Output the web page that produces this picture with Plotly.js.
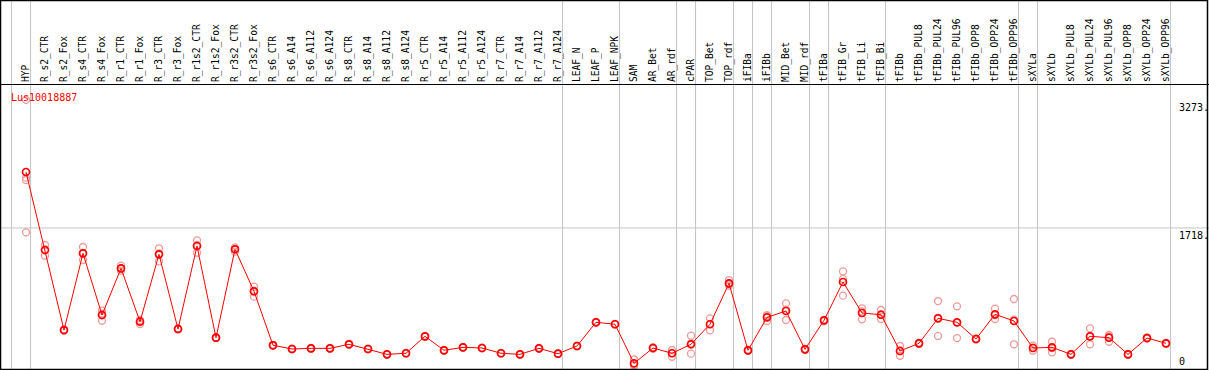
<!DOCTYPE html>
<html>
<head>
<meta charset="utf-8">
<script src="https://cdn.plot.ly/plotly-3.0.1.min.js"></script>
<style>
  html, body { margin: 0; padding: 0; background: #ffffff; }
  #chart { width: 1209px; height: 370px; }
</style>
</head>
<body>
<div id="chart"></div>
<script>
// ---- data ----
const geneName = "Lus10018887";

const categories = [
  "HYP", "R_s2_CTR", "R_s2_Fox", "R_s4_CTR", "R_s4_Fox", "R_r1_CTR", "R_r1_Fox",
  "R_r3_CTR", "R_r3_Fox", "R_r1s2_CTR", "R_r1s2_Fox", "R_r3s2_CTR", "R_r3s2_Fox",
  "R_s6_CTR", "R_s6_A14", "R_s6_A112", "R_s6_A124", "R_s8_CTR", "R_s8_A14", "R_s8_A112",
  "R_s8_A124", "R_r5_CTR", "R_r5_A14", "R_r5_A112", "R_r5_A124", "R_r7_CTR", "R_r7_A14",
  "R_r7_A112", "R_r7_A124", "LEAF_N", "LEAF_P", "LEAF_NPK", "SAM", "AR_Bet", "AR_rdf",
  "cPAR", "TOP_Bet", "TOP_rdf", "iFIBa", "iFIBb", "MID_Bet", "MID_rdf", "tFIBa",
  "tFIB_Gr", "tFIB_Li", "tFIB_Bi", "tFIBb", "tFIBb_PUL8", "tFIBb_PUL24", "tFIBb_PUL96",
  "tFIBb_OPP8", "tFIBb_OPP24", "tFIBb_OPP96", "sXYLa", "sXYLb", "sXYLb_PUL8",
  "sXYLb_PUL24", "sXYLb_PUL96", "sXYLb_OPP8", "sXYLb_OPP24", "sXYLb_OPP96"
];

// sizes of the sample groups separated by vertical lines
const groupSizes = [1, 28, 3, 3, 1, 2, 1, 1, 2, 1, 3, 7, 1, 7];

const meanValues = [
  2397, 1450, 479, 1410, 661, 1228, 580, 1398, 492, 1499, 386, 1459, 949,
  294, 249, 257, 257, 306, 249, 184, 197, 403, 233, 269, 261, 197, 184, 257, 192,
  285, 573, 549, 75, 261, 197, 306, 549, 1046, 233, 633, 710, 245, 597,
  1062, 686, 665, 225, 318, 621, 573, 370, 670, 589, 261, 269, 184, 403, 386, 184, 382, 318
];

const rep1 = [
  3273, 1511, 483, 1487, 714, 1260, 601, 1471, 498, 1568, 390, 1483, 1005,
  300, 254, 262, 261, 312, 254, 188, 201, 408, 237, 273, 265, 201, 188, 261, 196,
  289, 578, 554, 124, 270, 237, 410, 621, 1086, 240, 661, 803, 250, 603,
  1190, 743, 722, 285, 325, 831, 767, 378, 738, 856, 228, 337, 190, 500, 419, 188, 390, 322
];
const rep2 = [
  2328, 1381, 471, 1329, 592, 1199, 552, 1313, 486, 1417, 380, 1430, 884,
  288, 244, 252, 253, 300, 245, 180, 193, 398, 229, 265, 257, 193, 180, 253, 188,
  281, 568, 544, 55, 250, 155, 192, 476, 1017, 226, 589, 601, 235, 585,
  1100, 609, 660, 167, 310, 407, 382, 362, 613, 306, 290, 209, 178, 306, 337, 180, 375, 312
];
const rep3 = [
  2300, 1458, 483, 1414, 677, 1225, 587, 1410, 492, 1512, 388, 1464, 958,
  294, 249, 257, 257, 306, 248, 184, 197, 403, 233, 269, 261, 197, 184, 257, 192,
  285, 573, 549, 46, 263, 199, 316, 550, 1035, 233, 650, 726, 250, 603,
  896, 706, 613, 223, 319, 625, 570, 370, 659, 605, 265, 261, 184, 403, 402, 184, 382, 320
];
const rep4 = [1665]; // HYP has a fourth replicate

const yTickVals = [0, 1718, 3273];
const yTickText = ["0", "1718.", "3273."];

// ---- build traces ----
const repX = [], repY = [];
[rep1, rep2, rep3, rep4].forEach(arr => {
  arr.forEach((v, i) => {
    if (v !== null && v !== undefined) { repX.push(categories[i]); repY.push(v); }
  });
});

const mono = "DejaVu Sans Mono, Liberation Mono, monospace";

const traceReps = {
  type: "scatter", mode: "markers",
  x: repX, y: repY,
  marker: { symbol: "circle-open", size: 7, color: "#f09a9a", line: { width: 1.3, color: "#f09a9a" } },
  hoverinfo: "skip", showlegend: false
};
const traceMean = {
  type: "scatter", mode: "lines+markers",
  x: categories, y: meanValues,
  line: { color: "#ff0000", width: 1 },
  marker: { symbol: "circle-open", size: 7, color: "#ff0000", line: { width: 1.7, color: "#ff0000" } },
  showlegend: false
};

// ---- layout geometry ----
const W = 1209, H = 370, TOP = 85, BOT = 0;
const plotH = H - TOP - BOT;
const yTopPaper = 1 + (TOP - 0.5) / plotH;
const sepOffset = 0.24;

const shapes = [];
// vertical group separators
let edge = -1;
const bounds = [edge];
groupSizes.forEach(s => { edge += s; bounds.push(edge); });
bounds.forEach(b => {
  shapes.push({ type: "line", xref: "x", yref: "paper", x0: b + sepOffset, x1: b + sepOffset,
    y0: 0, y1: yTopPaper, line: { color: "#c4c4c4", width: 1 }, layer: "below" });
});
// horizontal grid at the middle tick
shapes.push({ type: "line", xref: "paper", yref: "y", x0: 0, x1: 1, y0: yTickVals[1], y1: yTickVals[1],
  line: { color: "#c4c4c4", width: 1 }, layer: "below" });
// outer frame
shapes.push({ type: "rect", xref: "paper", yref: "paper",
  x0: 0.5 / W, x1: (W - 1.5) / W, y0: 0.5 / plotH, y1: yTopPaper,
  line: { color: "#000000", width: 1.5 }, fillcolor: "rgba(0,0,0,0)" });

const annotations = [{
  text: geneName, xref: "paper", yref: "paper", x: 9 / W, y: 1 - (97 - TOP) / plotH,
  xanchor: "left", yanchor: "middle", showarrow: false,
  font: { family: mono, size: 10, color: "#ff0000" }
}];
yTickVals.forEach((v, i) => {
  annotations.push({
    text: yTickText[i], xref: "paper", yref: "y", x: 1177 / W, y: v,
    xanchor: "left", yanchor: v === 0 ? "bottom" : "top", yshift: v === 0 ? 1 : 0,
    showarrow: false, font: { family: mono, size: 10, color: "#000000" }
  });
});

const layout = {
  width: W, height: H,
  margin: { l: 0, r: 0, t: TOP, b: BOT, pad: 0 },
  paper_bgcolor: "#ffffff", plot_bgcolor: "#ffffff",
  showlegend: false,
  xaxis: {
    type: "category", side: "top",
    range: [-26 / 19, (W - 26) / 19],
    tickmode: "array", tickvals: categories, ticktext: categories,
    tickangle: -90, ticks: "", showgrid: false, zeroline: false,
    showline: true, linecolor: "#000000", linewidth: 1,
    tickfont: { family: mono, size: 9.6, color: "#000000" },
    fixedrange: true
  },
  yaxis: {
    range: [-6, 3453], showgrid: false, zeroline: false, showline: false,
    showticklabels: false, ticks: "", fixedrange: true
  },
  shapes: shapes,
  annotations: annotations
};

Plotly.newPlot("chart", [traceReps, traceMean], layout, { displayModeBar: false, staticPlot: true });
</script>
</body>
</html>
